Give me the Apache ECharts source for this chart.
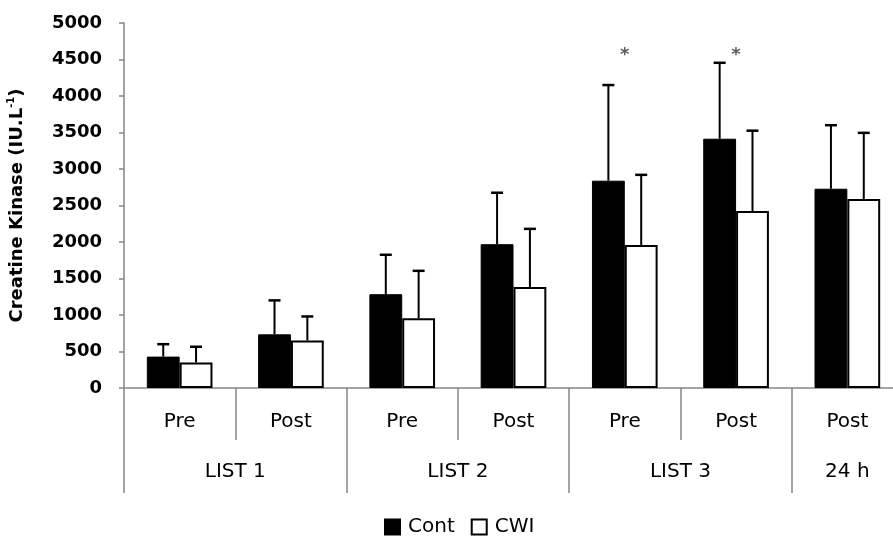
<!DOCTYPE html>
<html>
<head>
<meta charset="utf-8">
<script src="https://cdn.jsdelivr.net/npm/echarts@6/dist/echarts.min.js"></script>
<style>
html,body{margin:0;padding:0;background:#fff;}
#chart{width:893px;height:541px;}
</style>
</head>
<body>
<div id="chart"></div>
<script>
// ---- data ----
var categories = ['Pre', 'Post', 'Pre', 'Post', 'Pre', 'Post', 'Post'];
var groups = ['LIST 1', 'LIST 2', 'LIST 3', '24 h'];
var groupCenters = [1, 3, 5, 6.5];
var groupBounds = [0, 2, 4, 6, 7];
var contMean = [430, 735, 1285, 1970, 2840, 3415, 2730];
var contSD   = [170, 465, 540, 705, 1310, 1040, 870];
var cwiMean  = [350, 650, 955, 1385, 1960, 2425, 2590];
var cwiSD    = [215, 330, 650, 795, 960, 1100, 905];
var sigMarks = [[4, 4560], [5, 4560]];
var yTicks = [0, 500, 1000, 1500, 2000, 2500, 3000, 3500, 4000, 4500, 5000];

var FONT = 'DejaVu Sans';
var AXIS_GRAY = '#868686';
var CAT_GAP = 0.41;

var chart = echarts.init(document.getElementById('chart'), null, {renderer: 'canvas'});

function errorSeries(name, means, sds, side) {
  return {
    type: 'custom',
    name: name,
    xAxisIndex: 0,
    yAxisIndex: 0,
    z: 5,
    data: means.map(function (m, i) { return [i, m, m + sds[i]]; }),
    renderItem: function (params, api) {
      var idx = api.value(0);
      var band = api.size([1, 0])[0];
      var barW = band * (1 - CAT_GAP) / 2;
      var off = side * barW / 2;
      var p0 = api.coord([idx, api.value(1)]);
      var p1 = api.coord([idx, api.value(2)]);
      var x = p0[0] + off;
      var cap = 6;
      return {
        type: 'group',
        children: [
          {type: 'line', shape: {x1: x, y1: p0[1], x2: x, y2: p1[1]},
           style: {stroke: '#000', lineWidth: 2}},
          {type: 'line', shape: {x1: x - cap, y1: p1[1], x2: x + cap, y2: p1[1]},
           style: {stroke: '#000', lineWidth: 2.5}}
        ]
      };
    }
  };
}

var option = {
  backgroundColor: '#fff',
  animation: false,
  grid: {left: 124, right: -10, top: 23, bottom: 153, containLabel: false, outerBoundsMode: 'none'},
  legend: {
    data: ['Cont', 'CWI'],
    left: 379,
    top: 512,
    itemWidth: 15,
    itemHeight: 15,
    itemGap: 16,
    icon: 'rect',
    textStyle: {fontFamily: FONT, fontSize: 20, color: '#000', padding: [0, 0, 0, 3]}
  },
  xAxis: [
    {
      type: 'category',
      data: categories,
      position: 'bottom',
      boundaryGap: true,
      axisLine: {show: true, lineStyle: {color: AXIS_GRAY, width: 1.5}},
      axisTick: {show: true, interval: 0, length: 52, alignWithLabel: false,
                 lineStyle: {color: AXIS_GRAY, width: 1.5}},
      axisLabel: {interval: 0, margin: 24, fontFamily: FONT, fontSize: 20, color: '#000'},
      splitLine: {show: false}
    },
    {
      type: 'value',
      min: 0,
      max: 7,
      position: 'bottom',
      offset: 52,
      axisLine: {show: false},
      axisTick: {show: true, customValues: groupBounds, length: 53, inside: false,
                 lineStyle: {color: AXIS_GRAY, width: 1.5}},
      axisLabel: {
        show: true,
        customValues: groupCenters,
        margin: 22,
        fontFamily: FONT, fontSize: 20, color: '#000',
        formatter: function (v) {
          var i = groupCenters.indexOf(v);
          return i >= 0 ? groups[i] : '';
        }
      },
      splitLine: {show: false}
    }
  ],
  yAxis: {
    type: 'value',
    min: yTicks[0],
    max: yTicks[yTicks.length - 1],
    interval: 500,
    name: '{a|Creatine Kinase (IU.L}{s|-1}{a|)}',
    nameLocation: 'middle',
    nameRotate: 90,
    nameGap: 96,
    nameTextStyle: {
      rich: {
        a: {fontFamily: FONT, fontSize: 18, fontWeight: 'bold', color: '#000', lineHeight: 22},
        s: {fontFamily: FONT, fontSize: 10, fontWeight: 'bold', color: '#000', verticalAlign: 'top', lineHeight: 22}
      }
    },
    axisLine: {show: true, lineStyle: {color: AXIS_GRAY, width: 1.5}},
    axisTick: {show: true, inside: false, length: 5, lineStyle: {color: AXIS_GRAY, width: 1.5}},
    axisLabel: {margin: 22, fontFamily: FONT, fontSize: 18, fontWeight: 'bold', color: '#000',
                formatter: function (v) { return String(v); }},
    splitLine: {show: false}
  },
  series: [
    {
      name: 'Cont',
      type: 'bar',
      data: contMean,
      barGap: '0%',
      barCategoryGap: (CAT_GAP * 100) + '%',
      itemStyle: {color: '#000', borderColor: '#000', borderWidth: 1}
    },
    {
      name: 'CWI',
      type: 'bar',
      data: cwiMean,
      barGap: '0%',
      barCategoryGap: (CAT_GAP * 100) + '%',
      itemStyle: {color: '#fff', borderColor: '#000', borderWidth: 2}
    },
    errorSeries('ContErr', contMean, contSD, -1),
    errorSeries('CWIErr', cwiMean, cwiSD, 1),
    {
      name: 'sig',
      type: 'scatter',
      data: sigMarks,
      symbolSize: 0,
      z: 6,
      label: {show: true, position: 'inside', formatter: '*',
              fontFamily: FONT, fontSize: 18, fontWeight: 'bold', color: '#333'}
    }
  ]
};
chart.setOption(option);
</script>
</body>
</html>
